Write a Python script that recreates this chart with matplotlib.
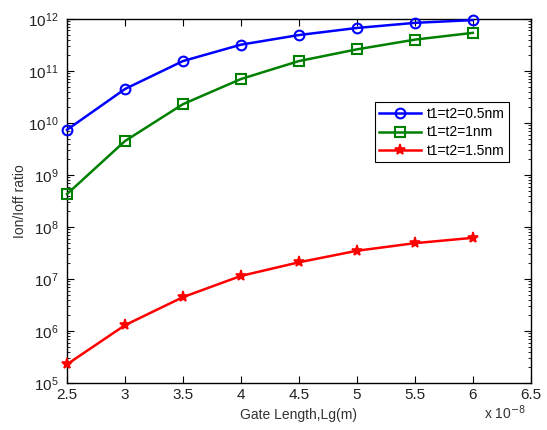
import numpy as np
import matplotlib.pyplot as plt
from matplotlib.ticker import FuncFormatter, LogLocator

plt.rcParams['font.family'] = ['Liberation Sans', 'DejaVu Sans']

# gate length (m) and on/off current ratio for three oxide thicknesses
gate_len = [2.5e-8, 3.0e-8, 3.5e-8, 4.0e-8, 4.5e-8, 5.0e-8, 5.5e-8, 6.0e-8]
ratio_05nm = [7.4e9, 4.5e10, 1.55e11, 3.2e11, 4.9e11, 6.7e11, 8.4e11, 9.5e11]
ratio_1nm = [4.3e8, 4.5e9, 2.3e10, 7.0e10, 1.55e11, 2.6e11, 4.0e11, 5.4e11]
ratio_15nm = [2.3e5, 1.3e6, 4.5e6, 1.15e7, 2.1e7, 3.5e7, 4.9e7, 6.2e7]
labels = ['t1=t2=0.5nm', 't1=t2=1nm', 't1=t2=1.5nm']
xticks = [2.5e-8, 3e-8, 3.5e-8, 4e-8, 4.5e-8, 5e-8, 5.5e-8, 6e-8, 6.5e-8]

fig = plt.figure(figsize=(5.47, 4.30), dpi=100)
ax = fig.add_axes([0.1225, 0.109, 0.848, 0.847])

ax.semilogy(gate_len, ratio_05nm, '-o', color='#0000ff', lw=1.8, ms=7,
            mfc='none', mew=1.5, label=labels[0], clip_on=False, zorder=3)
ax.semilogy(gate_len, ratio_1nm, '-s', color='#008000', lw=1.8, ms=7,
            mfc='none', mew=1.5, label=labels[1], clip_on=False, zorder=3)
ax.semilogy(gate_len, ratio_15nm, '-*', color='#ff0000', lw=1.8, ms=8,
            mew=1.2, label=labels[2], clip_on=False, zorder=3)

ax.set_xlim(2.5e-8, 6.5e-8)
ax.set_ylim(1e5, 1e12)
ax.set_xticks(xticks)
ax.xaxis.set_major_formatter(FuncFormatter(lambda v, p: f'{v / 1e-8:g}'))
ax.yaxis.set_major_locator(LogLocator(base=10, numticks=20))
ax.yaxis.set_minor_locator(LogLocator(base=10, subs=np.arange(2, 10), numticks=20))

ax.tick_params(which='both', direction='in', top=True, right=True,
               labelsize=11, colors='#000000', labelcolor='#222222')
ax.tick_params(which='major', length=5)
ax.tick_params(which='minor', length=2.5)
ax.tick_params(axis='y', pad=6)
for s in ax.spines.values():
    s.set_linewidth(1.0)

ax.set_xlabel('Gate Length,Lg(m)', fontsize=10, color='#333333', labelpad=4)
ax.set_ylabel('Ion/Ioff ratio', fontsize=10, color='#333333', labelpad=1)
ax.text(0.99, -0.082, r'x 10$^{-8}$', transform=ax.transAxes, fontsize=10,
        ha='right', va='center', color='#333333')

leg = ax.legend(loc='upper right', bbox_to_anchor=(0.967, 0.79), fontsize=10,
                fancybox=False, framealpha=1, edgecolor='black',
                handlelength=3, borderpad=0.3, labelspacing=0.35, handletextpad=0.4)
leg.get_frame().set_linewidth(0.8)

fig.savefig('out.png', dpi=100)
